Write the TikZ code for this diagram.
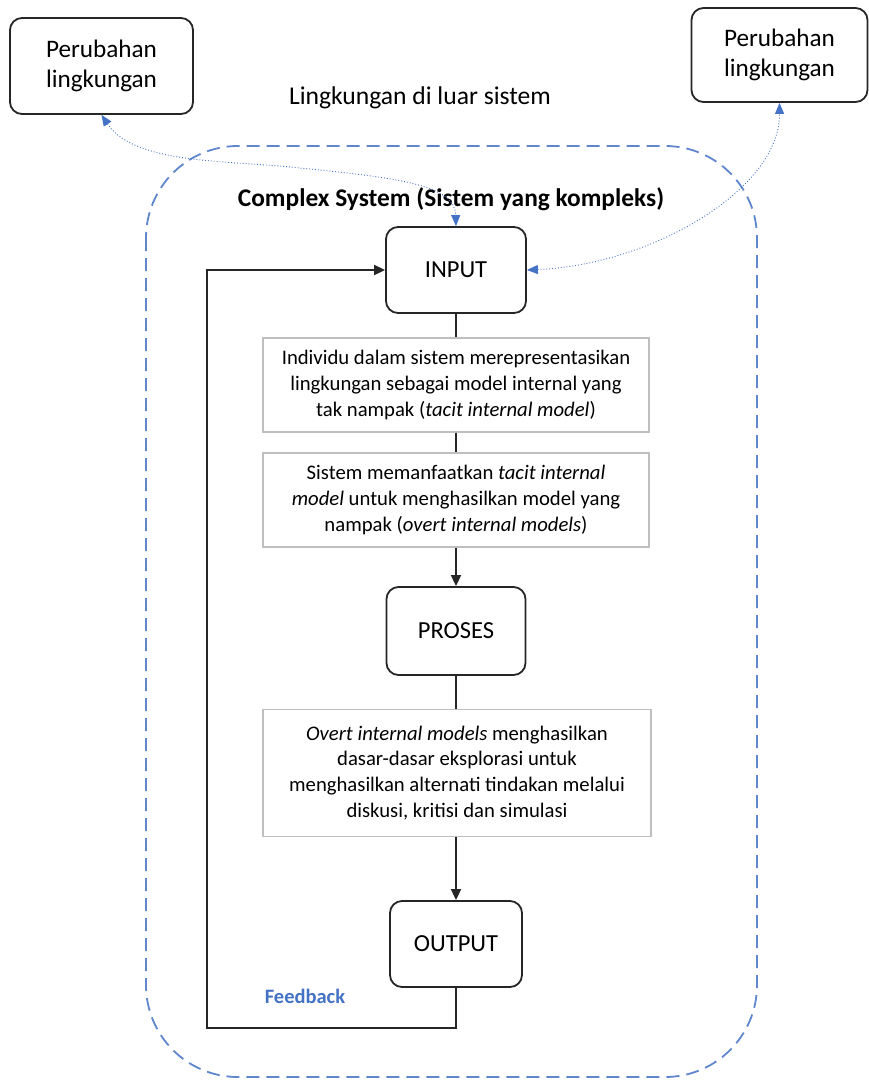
\documentclass[tikz,border=0pt]{standalone}
\usepackage{fontspec}
\setmainfont{Carlito}
\usetikzlibrary{arrows.meta}
\definecolor{officeblue}{HTML}{4472C4}
\definecolor{boxgray}{HTML}{BFBFBF}
\definecolor{edge}{HTML}{262626}
\begin{document}
\begin{tikzpicture}[x=1pt,y=-1pt,
  stage/.style={draw=edge,line width=1.8pt,rounded corners=12pt,align=center,
    font=\fontsize{24.5}{29}\selectfont,inner sep=0pt},
  envbox/.style={stage,font=\fontsize{25.2}{30}\selectfont},
  note/.style={draw=boxgray,line width=1.4pt,align=center,inner sep=0pt,
    font=\fontsize{20.7}{25.8}\selectfont},
  flow/.style={draw=edge,line width=1.8pt},
  flowarrow/.style={flow,-{Triangle[length=11pt,width=10pt]}},
  envlink/.style={draw=officeblue,line width=0.9pt,dotted,
    {Triangle[length=11pt,width=9pt]}-{Triangle[length=11pt,width=9pt]}},
  boundary/.style={draw=officeblue!85,line width=1.8pt,dash pattern=on 13pt off 7pt}
]
\useasboundingbox (0,0) rectangle (869,1080);

% system boundary
\draw[boundary,rounded corners=92pt] (146,146) rectangle (757,1077);

% environment changes outside the system
\node[envbox,minimum width=183pt,minimum height=96pt] (envL) at (101.5,66)
  {Perubahan\\lingkungan};
\node[envbox,minimum width=176pt,minimum height=94pt] (envR) at (779.5,55)
  {Perubahan\\lingkungan};
\node[font=\fontsize{25.6}{30}\selectfont] (outside) at (420,98) {Lingkungan di luar sistem};
\node[font=\bfseries\fontsize{25.4}{30}\selectfont] (title) at (451,199)
  {Complex System (Sistem yang kompleks)};

% main flow
\node[stage,minimum width=140pt,minimum height=86pt] (input) at (456,270) {INPUT};
\node[note,minimum width=386pt,minimum height=94pt] (n1) at (456,385)
  {Individu dalam sistem merepresentasikan\\
   lingkungan sebagai model internal yang\\
   tak nampak (\textit{tacit internal model})};
\node[note,minimum width=386pt,minimum height=94pt] (n2) at (456,500)
  {Sistem memanfaatkan \textit{tacit internal}\\
   \textit{model} untuk menghasilkan model yang\\
   nampak (\textit{overt internal models})};
\node[stage,minimum width=139pt,minimum height=88pt] (proses) at (456,631) {PROSES};
\node[note,minimum width=388pt,minimum height=127pt] (n3) at (457,773)
  {\textit{Overt internal models} menghasilkan\\
   dasar-dasar eksplorasi untuk\\
   menghasilkan alternati tindakan melalui\\
   diskusi, kritisi dan simulasi};
\node[stage,minimum width=132pt,minimum height=86pt] (output) at (456,944) {OUTPUT};

\draw[flow] (input) -- (n1);
\draw[flow] (n1) -- (n2);
\draw[flowarrow] (n2) -- (proses);
\draw[flow] (proses.south) -- (proses.south |- n3.north);
\draw[flowarrow] (n3.south -| output) -- (output);

% feedback loop
\coordinate (fbcorner) at (207,1028);
\draw[flowarrow] (output.south) |- (fbcorner) |- (input.west);
\node[font=\bfseries\fontsize{20.5}{24}\selectfont,text=officeblue] (fblabel) at (305,996) {Feedback};

% links between the system and its environment
\draw[envlink] (envL.south) .. controls (135,165) and (230,160) .. (300,168)
  .. controls (400,178) and (455,185) .. (input.north);
\draw[envlink] (input.east) .. controls (650,265) and (780,190) .. (envR.south);
\end{tikzpicture}
\end{document}
